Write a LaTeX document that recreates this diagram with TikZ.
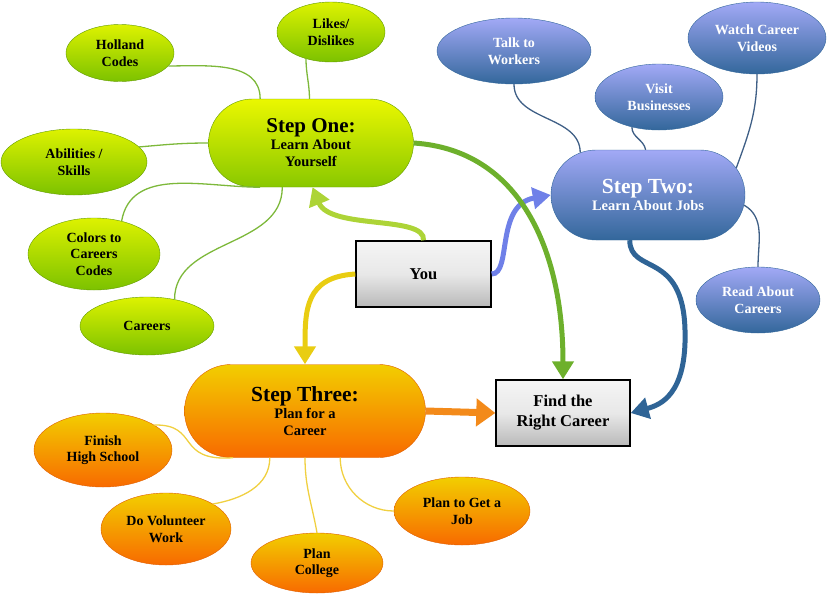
\documentclass[tikz,border=0pt]{standalone}
\usepackage{fontspec}
\setmainfont{Liberation Serif}
\usetikzlibrary{shapes.geometric,shapes.misc,arrows.meta}
\definecolor{gtop}{HTML}{DDF200}
\definecolor{gbot}{HTML}{7CC200}
\definecolor{gline}{HTML}{7DB83A}
\definecolor{btop}{HTML}{A2A9F6}
\definecolor{bbot}{HTML}{33679B}
\definecolor{bline}{HTML}{3F5F86}
\definecolor{otop}{HTML}{F2CE00}
\definecolor{obot}{HTML}{F86A00}
\definecolor{oline}{HTML}{F0D040}
\definecolor{aGreenY}{HTML}{ADD437}
\definecolor{aBlue}{HTML}{6F80E8}
\definecolor{aYellow}{HTML}{E9CD12}
\definecolor{aGreen}{HTML}{6DB02C}
\definecolor{aDark}{HTML}{2F6496}
\definecolor{aOrange}{HTML}{F38A1A}
\tikzset{
  leaf/.style={ellipse, inner sep=0pt, align=center, font=\bfseries\fontsize{14}{16.5}\selectfont},
  gleaf/.style={leaf, top color=gtop, bottom color=gbot, draw=gbot!80!black, line width=0.4pt},
  bleaf/.style={leaf, top color=btop, bottom color=bbot, draw=bbot, line width=0.4pt, text=white},
  oleaf/.style={leaf, top color=otop, bottom color=obot, draw=obot!90!black, line width=0.4pt},
  stepbox/.style={rounded rectangle, inner sep=0pt, align=center, font=\bfseries\fontsize{14.5}{17}\selectfont},
  gbox/.style={rectangle, draw=black, line width=1.4pt, top color=gray!8, bottom color=gray!55, middle color=gray!18, align=center, font=\bfseries\fontsize{16.5}{20}\selectfont, inner sep=0pt},
  glink/.style={gline, line width=1.3pt},
  blink/.style={bline, line width=1.3pt},
  olink/.style={oline, line width=1.3pt},
  bigarrow/.style={line width=5pt, -{Triangle[width=21pt,length=18pt]}},
}
\begin{document}
\begin{tikzpicture}[x=1pt,y=1pt]
\useasboundingbox (0,0) rectangle (828,-595);
% ---- nodes
\node[stepbox, top color=gtop!60!yellow, bottom color=gbot!90!yellow, draw=gbot!80!black, line width=0.4pt, minimum width=205pt, minimum height=88pt] (one) at (311,-143)
  {{\fontsize{21}{22}\selectfont Step One:}\\Learn About\\Yourself};
\node[stepbox, top color=btop, bottom color=bbot, draw=bbot, line width=0.4pt, text=white, minimum width=194pt, minimum height=90pt] (two) at (648,-195)
  {{\fontsize{21.5}{23}\selectfont Step Two:}\\Learn About Jobs};
\node[stepbox, top color=otop, bottom color=obot, draw=obot!90!black, line width=0.4pt, minimum width=241pt, minimum height=93pt] (three) at (305,-411)
  {{\fontsize{21.5}{23}\selectfont Step Three:}\\Plan for a\\Career};
\node[gbox, minimum width=135pt, minimum height=66pt] (you) at (423.5,-274) {You};
\node[gbox, minimum width=134pt, minimum height=66pt] (find) at (563,-413) {Find the\\Right Career};

\node[gleaf, minimum width=108pt, minimum height=57pt] (holland) at (120,-53) {Holland\\Codes};
\node[gleaf, minimum width=108pt, minimum height=60pt] (likes) at (331,-32) {Likes/\\Dislikes};
\node[gleaf, minimum width=146pt, minimum height=66pt] (abil) at (74,-162) {Abilities /\\Skills};
\node[gleaf, minimum width=132pt, minimum height=72pt] (colors) at (94,-254) {Colors to\\Careers\\Codes};
\node[gleaf, minimum width=134pt, minimum height=58pt] (careers) at (147,-326) {Careers};

\node[bleaf, minimum width=154pt, minimum height=66pt] (talk) at (514,-51) {Talk to\\Workers};
\node[bleaf, minimum width=138pt, minimum height=72pt] (watch) at (757,-38) {Watch Career\\Videos};
\node[bleaf, minimum width=128pt, minimum height=66pt] (visit) at (659,-97) {Visit\\Businesses};
\node[bleaf, minimum width=124pt, minimum height=66pt] (read) at (758,-300) {Read About\\Careers};

\node[oleaf, minimum width=138pt, minimum height=74pt] (finish) at (103,-450) {Finish\\High School};
\node[oleaf, minimum width=130pt, minimum height=72pt] (vol) at (166,-529) {Do Volunteer\\Work};
\node[oleaf, minimum width=132pt, minimum height=60pt] (college) at (317,-563) {Plan\\College};
\node[oleaf, minimum width=136pt, minimum height=68pt] (job) at (462,-511) {Plan to Get a\\Job};

% ---- thin links
\begin{scope}[on background layer/.try]
\end{scope}
\draw[glink] (holland.-15) to[out=0,in=90] (one.139);
\draw[glink] (likes.-133) to[out=-90,in=90] (one.92);
\draw[glink] (abil.13) to[out=5,in=180] (one.west);
\draw[glink] (colors.50) to[out=80,in=180] (one.-139);
\draw[glink] (careers.44) to[out=90,in=-90] (one.-123);

\draw[blink] (talk.-90) to[out=-90,in=90] (two.148);
\draw[blink] (visit.-132) to[out=-90,in=100] (two.93);
\draw[blink] (watch.-90) to[out=-90,in=70] (two.17);
\draw[blink] (read.90) to[out=90,in=-30] (two.-6);

\draw[olink] (finish.26) .. controls (200,-424) and (175,-462) .. (three.-147);
\draw[olink] (vol.28) to[out=10,in=-90] (three.-127);
\draw[olink] (college.90) to[out=100,in=-90] (three.-90);
\draw[olink] (job.180) to[out=180,in=-90] (three.-53);

% ---- thick arrows
\draw[bigarrow, aGreenY] (you.north) .. controls (426,-215) and (330,-230) .. (one.-88);
\draw[bigarrow, aBlue] (you.east) .. controls (512,-274) and (495,-205) .. (two.west);
\draw[bigarrow, aYellow] (you.west) .. controls (305,-277) and (305,-310) .. (three.north);
\draw[bigarrow, aGreen] (one.east) .. controls (520,-150) and (563,-250) .. (find.north);
\draw[bigarrow, aDark] (two.-112) .. controls (630,-275) and (683,-250) .. (685,-330) .. controls (687,-395) and (660,-405) .. (find.east);
\draw[aOrange, line width=7pt, -{Triangle[width=27pt,length=19pt]}] (three.east) -- (find.west);
\end{tikzpicture}
\end{document}
